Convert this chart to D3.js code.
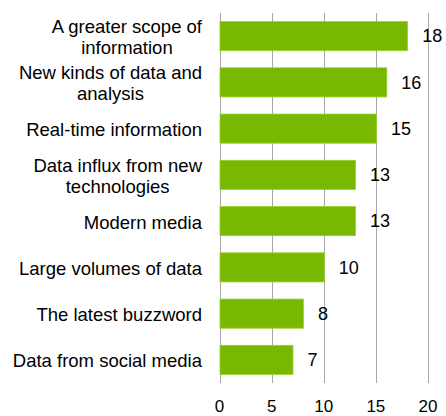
<!DOCTYPE html>
<html><head><meta charset="utf-8">
<script src="https://cdn.jsdelivr.net/npm/d3@7"></script>
<style>body{margin:0;background:#fff;}text{font-family:"Liberation Sans",Arial,sans-serif;fill:#000;}</style>
</head><body>
<svg id="c" width="446" height="416"></svg>
<script>
const categories = [["A greater scope of","information"],["New kinds of data and","analysis"],["Real-time information"],["Data influx from new","technologies"],["Modern media"],["Large volumes of data"],["The latest buzzword"],["Data from social media"]];
const values = [18,16,15,13,13,10,8,7];
const ticks = [0,5,10,15,20];

const svg = d3.select("#c");
const m = {l:219.5, r:18, t:13, b:33};
const W = 446, H = 416;
const x = d3.scaleLinear().domain([0,20]).range([m.l, W-m.r]);
const y = d3.scaleBand().domain(d3.range(values.length)).range([m.t, H-m.b]).paddingInner(0.37).paddingOuter(0.185);

svg.append("g").selectAll("line").data(ticks).join("line")
  .attr("x1",d=>Math.round(x(d))+0.5).attr("x2",d=>Math.round(x(d))+0.5)
  .attr("y1",m.t).attr("y2",H-m.b).attr("stroke","#a6a6a6").attr("stroke-width",1);

svg.append("g").selectAll("rect").data(values).join("rect")
  .attr("x",x(0)+0.5).attr("y",(d,i)=>y(i)).attr("width",d=>x(d)-x(0)).attr("height",y.bandwidth())
  .attr("fill","#78b800").attr("stroke","#9ad12a").attr("stroke-width",0.8);

svg.append("g").selectAll("text").data(values).join("text")
  .attr("x",d=>x(d)+15).attr("y",(d,i)=>y(i)+y.bandwidth()/2).attr("dy","0.35em")
  .attr("font-size",18).text(d=>d);

const cg = svg.append("g");
categories.forEach((lines,i)=>{
  const cy = y(i)+y.bandwidth()/2 + 1;
  const lh = 21;
  const t = cg.append("text").attr("font-size",18.5);
  lines.forEach((s,j)=>{
    t.append("tspan").attr("y", cy + (j-(lines.length-1)/2)*lh).attr("dy","0.35em").text(s);
  });
});
// right-aligned block, each line centred within the block
cg.selectAll("text").each(function(){
  const ts = d3.select(this).selectAll("tspan");
  let maxW = 0;
  ts.each(function(){ maxW = Math.max(maxW, this.getComputedTextLength()); });
  ts.each(function(){
    const w=this.getComputedTextLength();
    d3.select(this).attr("x", 202 - maxW/2 - w/2);
  });
});

svg.append("g").selectAll("text").data(ticks).join("text")
  .attr("x",d=>x(d)).attr("y",412).attr("text-anchor","middle")
  .attr("font-size",17).text(d=>d);
</script>
</body></html>
